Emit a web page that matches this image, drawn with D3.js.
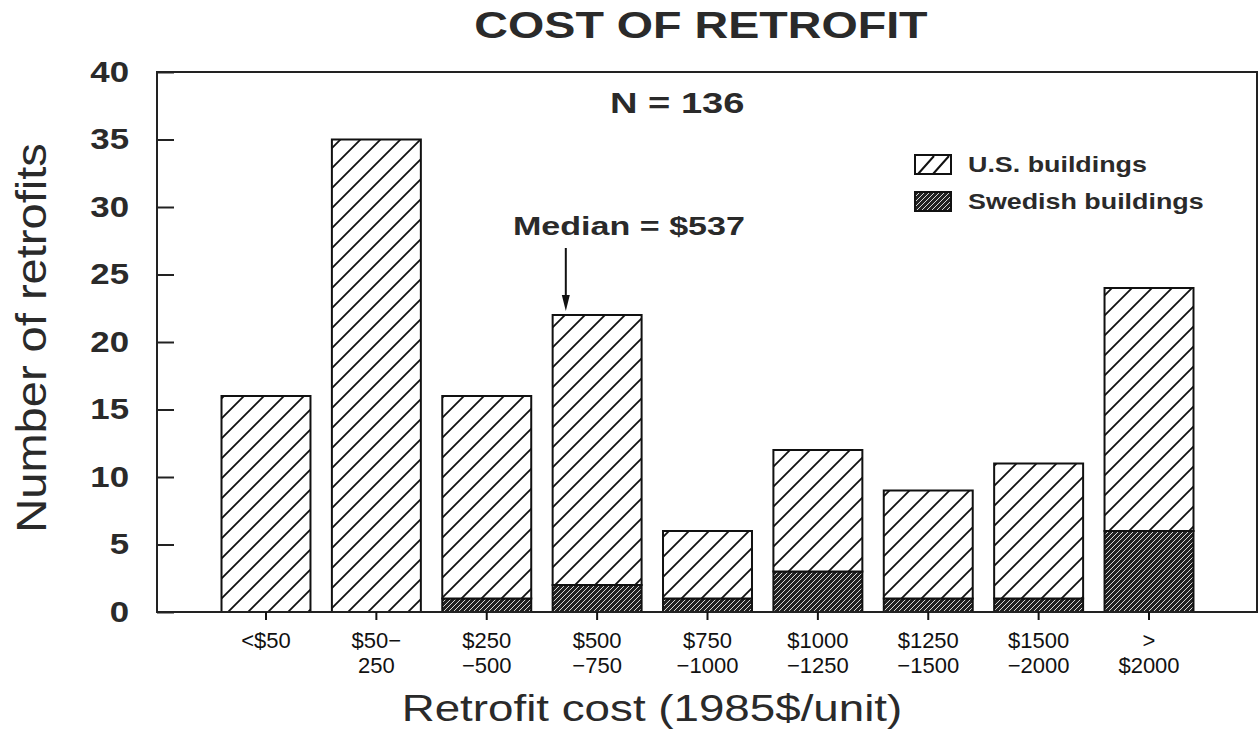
<!DOCTYPE html>
<html>
<head>
<meta charset="utf-8">
<title>Cost of retrofit</title>
<script src="https://cdn.jsdelivr.net/npm/d3@7"></script>
<style>
  body { margin: 0; background: #fff; }
  text { font-family: "Liberation Sans", Arial, sans-serif; }
</style>
</head>
<body>
<div id="chart"></div>
<script>
// data
var categories = ["<$50", "$50-250", "$250-500", "$500-750", "$750-1000", "$1000-1250", "$1250-1500", "$1500-2000", ">$2000"];
var tickLines = [["<$50"], ["$50\u2212", "250"], ["$250", "\u2212500"], ["$500", "\u2212750"], ["$750", "\u22121000"],
                 ["$1000", "\u22121250"], ["$1250", "\u22121500"], ["$1500", "\u22122000"], [">", "$2000"]];
var swedish = [0, 0, 1, 2, 1, 3, 1, 1, 6];
var usBuildings = [16, 35, 15, 20, 5, 9, 8, 10, 18];
var yTicks = [0, 5, 10, 15, 20, 25, 30, 35, 40];
var seriesKeys = ["swedish", "us"];
var legendLabels = ["U.S. buildings", "Swedish buildings"];
var medianValue = 537;
var medianBin = 3;         // index of the $500-750 bin
var binLo = 500, binHi = 750;
var nTotal = 136;

var W = 1260, H = 732;
var plotL = 157, plotR = 1257, plotT = 72, plotB = 612;

var svg = d3.select("#chart").append("svg")
    .attr("width", W)
    .attr("height", H);

var defs = svg.append("defs");

// U.S. hatch
var pUs = defs.append("pattern")
    .attr("id", "hatchUs")
    .attr("patternUnits", "userSpaceOnUse")
    .attr("width", 20).attr("height", 20);
pUs.append("rect").attr("width", 20).attr("height", 20).attr("fill", "#fff");
pUs.append("path")
    .attr("d", "M-5,5 L5,-5 M0,20 L20,0 M15,25 L25,15")
    .attr("stroke", "#111").attr("stroke-width", 1.8);

// Swedish dark hatch
var pSw = defs.append("pattern")
    .attr("id", "hatchSw")
    .attr("patternUnits", "userSpaceOnUse")
    .attr("width", 5).attr("height", 5);
pSw.append("rect").attr("width", 5).attr("height", 5).attr("fill", "#222");
pSw.append("path")
    .attr("d", "M-1,1 L1,-1 M0,5 L5,0 M4,6 L6,4")
    .attr("stroke", "#d8d8d8").attr("stroke-width", 1);

var fills = { us: "url(#hatchUs)", swedish: "url(#hatchSw)" };

function widen(sel, k) {
  sel.each(function() {
    var w = this.getComputedTextLength();
    d3.select(this).attr("textLength", w * k).attr("lengthAdjust", "spacingAndGlyphs");
  });
}

var x = d3.scaleBand()
    .domain(categories)
    .range([210.8, 1204.2])
    .paddingInner(0.194)
    .paddingOuter(0.097);

var y = d3.scaleLinear()
    .domain([0, 40])
    .range([plotB, plotT]);

var table = categories.map(function(c, i) {
  return { cat: c, swedish: swedish[i], us: usBuildings[i] };
});
var stacked = d3.stack().keys(seriesKeys)(table);

// bars
svg.selectAll(".layer")
    .data(stacked)
    .enter().append("g")
    .attr("class", "layer")
    .attr("fill", function(d) { return fills[d.key]; })
  .selectAll("rect")
    .data(function(d) { return d.filter(function(s) { return s[1] > s[0]; }); })
    .enter().append("rect")
    .attr("x", function(d) { return x(d.data.cat); })
    .attr("width", x.bandwidth())
    .attr("y", function(d) { return y(d[1]); })
    .attr("height", function(d) { return y(d[0]) - y(d[1]); })
    .attr("stroke", "#111")
    .attr("stroke-width", 2);

// frame
svg.append("rect")
    .attr("x", plotL).attr("y", plotT)
    .attr("width", plotR - plotL).attr("height", plotB - plotT)
    .attr("fill", "none")
    .attr("stroke", "#222")
    .attr("stroke-width", 2);

// y axis
var yAxis = svg.append("g")
    .attr("transform", "translate(" + plotL + ",0)")
    .call(d3.axisLeft(y).tickValues(yTicks).tickSize(-17).tickPadding(28));
yAxis.select(".domain").remove();
yAxis.selectAll("line").attr("stroke", "#222").attr("stroke-width", 2);
yAxis.selectAll("text")
    .attr("fill", "#2a2a2a")
    .style("font-size", "29px")
    .style("font-weight", "bold")
    .call(widen, 1.2);

// x axis
var xAxis = svg.append("g")
    .attr("transform", "translate(0," + plotB + ")")
    .call(d3.axisBottom(x).tickSize(8).tickPadding(0));
xAxis.select(".domain").remove();
xAxis.selectAll("line").attr("stroke", "#111").attr("stroke-width", 2);
xAxis.selectAll("text").remove();
xAxis.selectAll(".tick").each(function(d, i) {
  var t = d3.select(this).append("text")
      .attr("fill", "#111")
      .attr("text-anchor", "middle")
      .style("font-size", "22px");
  tickLines[i].forEach(function(line, j) {
    t.append("tspan").attr("x", 0).attr("y", 36 + j * 25).text(line);
  });
});

// title and axis titles
svg.append("text")
    .attr("x", 701).attr("y", 38)
    .attr("text-anchor", "middle")
    .attr("fill", "#2a2a2a")
    .style("font-size", "37px").style("font-weight", "bold")
    .text("COST OF RETROFIT")
    .call(widen, 1.26);

svg.append("text")
    .attr("x", 652).attr("y", 721)
    .attr("text-anchor", "middle")
    .attr("fill", "#2a2a2a")
    .style("font-size", "36px")
    .text("Retrofit cost (1985$/unit)")
    .call(widen, 1.27);

svg.append("text")
    .attr("transform", "translate(46,338) rotate(-90)")
    .attr("text-anchor", "middle")
    .attr("fill", "#2a2a2a")
    .style("font-size", "42px")
    .text("Number of retrofits")
    .call(widen, 1.12);

// annotations
svg.append("text")
    .attr("x", 610).attr("y", 113)
    .attr("fill", "#2a2a2a")
    .style("font-size", "30px").style("font-weight", "bold")
    .text("N = " + nTotal)
    .call(widen, 1.27);

svg.append("text")
    .attr("x", 513).attr("y", 235)
    .attr("fill", "#2a2a2a")
    .style("font-size", "26px").style("font-weight", "bold")
    .text("Median = $" + medianValue)
    .call(widen, 1.31);

var mx = x(categories[medianBin]) + (medianValue - binLo) / (binHi - binLo) * x.bandwidth();
var tipY = y(swedish[medianBin] + usBuildings[medianBin]) - 4;
svg.append("line")
    .attr("x1", mx).attr("x2", mx)
    .attr("y1", 248).attr("y2", tipY - 10)
    .attr("stroke", "#111").attr("stroke-width", 2);
svg.append("path")
    .attr("d", "M" + (mx - 4) + "," + (tipY - 16) + " L" + (mx + 4) + "," + (tipY - 16) + " L" + mx + "," + tipY + " Z")
    .attr("fill", "#111");

// legend
var legend = svg.selectAll(".legend")
    .data(legendLabels)
    .enter().append("g")
    .attr("class", "legend")
    .attr("transform", function(d, i) { return "translate(915," + (155 + i * 37) + ")"; });

legend.append("rect")
    .attr("width", 36).attr("height", 19)
    .attr("fill", function(d, i) { return i === 0 ? "#fff" : fills.swedish; })
    .attr("stroke", "#111").attr("stroke-width", 2);
legend.filter(function(d, i) { return i === 0; })
    .append("path")
    .attr("d", "M3,19 L19,1 M18,19 L34,1")
    .attr("stroke", "#111").attr("stroke-width", 2);
legend.append("text")
    .attr("x", 53).attr("y", 17)
    .attr("fill", "#2a2a2a")
    .style("font-size", "22px").style("font-weight", "bold")
    .text(function(d) { return d; })
    .call(widen, 1.22);
</script>
</body>
</html>
